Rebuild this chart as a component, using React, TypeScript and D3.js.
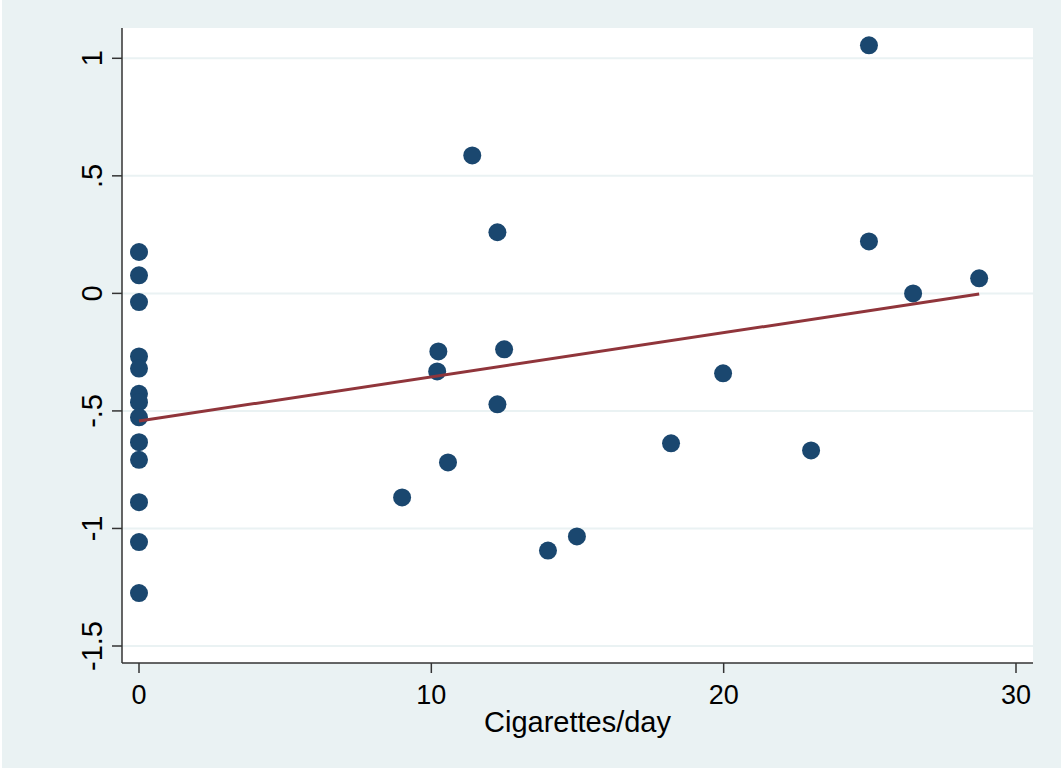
import React from "react";
import * as d3 from "d3";

const zeroGroupY = [0.176, 0.077, -0.037, -0.268, -0.32, -0.427, -0.463, -0.527, -0.633, -0.708, -0.888, -1.058, -1.275];
const otherX = [9.0, 10.2, 10.24, 10.57, 11.4, 12.26, 12.26, 12.49, 13.99, 14.98, 18.2, 19.98, 22.99, 24.97, 24.97, 26.48, 28.74];
const otherY = [-0.868, -0.332, -0.247, -0.719, 0.587, 0.26, -0.472, -0.238, -1.094, -1.034, -0.638, -0.34, -0.668, 1.055, 0.221, 0.0, 0.064];
const fitX = [0, 28.74];
const fitY = [-0.543, -0.003];
const yTicks = [1, 0.5, 0, -0.5, -1, -1.5];
const yTickLabels = ["1", ".5", "0", "-.5", "-1", "-1.5"];
const xTicks = [0, 10, 20, 30];
const xTitle = "Cigarettes/day";

const W = 1061;
const H = 769;
const left = 122;
const right = 1033;
const top = 28;
const bottom = 663;

export default function App() {
  const x = d3.scaleLinear().domain([0, 30]).range([139, 1016]);
  const y = d3.scaleLinear().domain([-1.5, 1]).range([646, 58.3]);
  const points = [
    ...zeroGroupY.map((v) => [0, v]),
    ...otherX.map((v, i) => [v, otherY[i]]),
  ];
  const line = d3
    .line<number>()
    .x((d) => x(fitX[d]))
    .y((d) => y(fitY[d]));
  const font = "'Liberation Sans', Arial, sans-serif";
  return (
    <svg
      width={W}
      height={H}
      style={{ position: "absolute", left: 0, top: 0, display: "block" }}
    >
      <rect x={0} y={0} width={W} height={H} fill="#ffffff" />
      <rect x={2} y={0} width={W - 2} height={768} fill="#EAF2F3" />
      <rect x={left} y={top} width={right - left} height={bottom - top} fill="#ffffff" />
      {yTicks.map((t) => (
        <line key={"g" + t} x1={left} x2={right} y1={y(t)} y2={y(t)} stroke="#EAF2F3" strokeWidth={2} />
      ))}
      {points.map((p, i) => (
        <circle key={i} cx={x(p[0])} cy={y(p[1])} r={9} fill="#1a476f" />
      ))}
      <path d={line([0, 1]) || ""} fill="none" stroke="#90353b" strokeWidth={3} />
      <line x1={left} x2={left} y1={top} y2={bottom} stroke="#333333" strokeWidth={1.5} />
      <line x1={left} x2={right} y1={bottom} y2={bottom} stroke="#333333" strokeWidth={1.5} />
      {yTicks.map((t, i) => (
        <g key={"y" + t}>
          <line x1={left - 10} x2={left} y1={y(t)} y2={y(t)} stroke="#333333" strokeWidth={1.5} />
          <text
            transform={`translate(102, ${y(t)}) rotate(-90)`}
            textAnchor="middle"
            fontFamily={font}
            fontSize={29}
            fill="#000"
          >
            {yTickLabels[i]}
          </text>
        </g>
      ))}
      {xTicks.map((t) => (
        <g key={"x" + t}>
          <line x1={x(t)} x2={x(t)} y1={bottom} y2={bottom + 10} stroke="#333333" strokeWidth={1.5} />
          <text x={x(t)} y={704} textAnchor="middle" fontFamily={font} fontSize={27} fill="#000">
            {t}
          </text>
        </g>
      ))}
      <text x={(left + right) / 2} y={732} textAnchor="middle" fontFamily={font} fontSize={29} fill="#000">
        {xTitle}
      </text>
    </svg>
  );
}
